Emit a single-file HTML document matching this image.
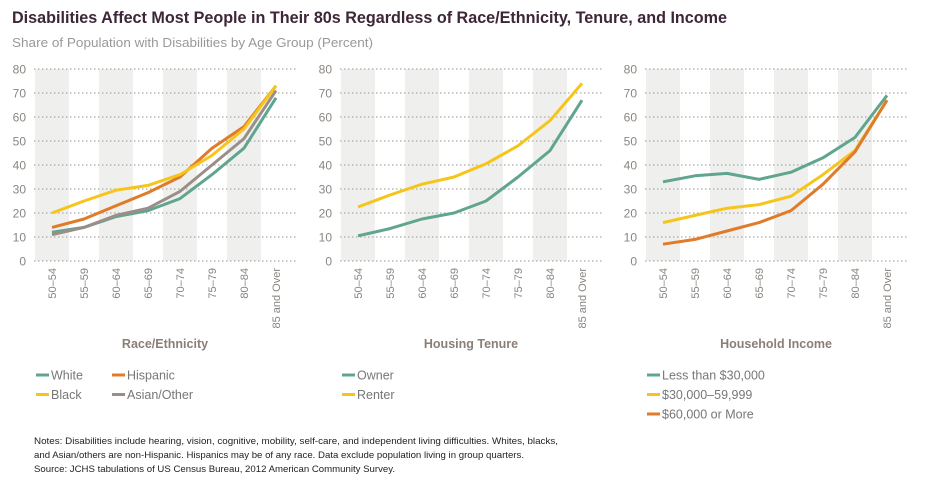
<!DOCTYPE html>
<html><head><meta charset="utf-8"><style>
body{margin:0;background:#fff;width:940px;height:488px;overflow:hidden;font-family:"Liberation Sans",sans-serif}
svg{display:block}
</style></head><body>
<svg id="c" width="940" height="488" xmlns="http://www.w3.org/2000/svg">
<text x="12" y="23" font-size="17" font-weight="bold" fill="#3d2638" textLength="715" lengthAdjust="spacingAndGlyphs">Disabilities Affect Most People in Their 80s Regardless of Race/Ethnicity, Tenure, and Income</text>
<text x="12" y="47" font-size="12.5" fill="#999" textLength="361" lengthAdjust="spacingAndGlyphs">Share of Population with Disabilities by Age Group (Percent)</text>
<g font-size="9.5" fill="#222">
<text x="34" y="444" textLength="524" lengthAdjust="spacingAndGlyphs">Notes: Disabilities include hearing, vision, cognitive, mobility, self-care, and independent living difficulties. Whites, blacks,</text>
<text x="34" y="458" textLength="490" lengthAdjust="spacingAndGlyphs">and Asian/others are non-Hispanic. Hispanics may be of any race. Data exclude population living in group quarters.</text>
<text x="34" y="472" textLength="361" lengthAdjust="spacingAndGlyphs">Source: JCHS tabulations of US Census Bureau, 2012 American Community Survey.</text>
</g>
</svg>
<script>
const categories=["50–54","55–59","60–64","65–69","70–74","75–79","80–84","85 and Over"];
const yTicks=[0,10,20,30,40,50,60,70,80];
const white=[12,14,18.5,21,26,36,47,68];
const hispanic=[14,17.5,23,28.5,35,47,56,73];
const black=[20,25,29.5,31.5,36,44,55,73];
const asian=[11,14,19,22,29,40,51,71];
const owner=[10.5,13.5,17.5,20,25,35,46,67];
const renter=[22.5,27.5,32,35,40.5,48,58.5,74];
const inc1=[33,35.5,36.5,34,37,43,51.5,69];
const inc2=[16,19,22,23.5,27,36,46,67];
const inc3=[7,9,12.5,16,21,32,45.5,67];
const G="#5fa58f",O="#e07b2a",Y="#f6c51b",A="#9a8f88";
const panels=[
 {ox:0,title:"Race/Ethnicity",series:[["White",white,G],["Asian/Other",asian,A],["Hispanic",hispanic,O],["Black",black,Y]],
  legend:[["White",G,0,0],["Hispanic",O,76,0],["Black",Y,0,1],["Asian/Other",A,76,1]]},
 {ox:306,title:"Housing Tenure",series:[["Owner",owner,G],["Renter",renter,Y]],legend:[["Owner",G,0,0],["Renter",Y,0,1]]},
 {ox:611,title:"Household Income",series:[["Less than $30,000",inc1,G],["$30,000–59,999",inc2,Y],["$60,000 or More",inc3,O]],
  legend:[["Less than $30,000",G,0,0],["$30,000–59,999",Y,0,1],["$60,000 or More",O,0,2]]}
];
const svg=document.getElementById('c');const NS="http://www.w3.org/2000/svg";
function el(t,a,p){const e=document.createElementNS(NS,t);for(const k in a)e.setAttribute(k,a[k]);(p||svg).appendChild(e);return e;}
const y=v=>261-v*2.4;
panels.forEach((p,pi)=>{
 const x=i=>52+p.ox+i*32;
 const g=el('g',{});
 
 
 for(let i=0;i<categories.length;i+=2){const r=el('rect',{x:x(i)-17,y:69,width:34,height:192,fill:'#efefed'},g);
  }
 yTicks.forEach(t=>{const l=el('line',{x1:34+p.ox,x2:296+p.ox,y1:y(t),y2:y(t),stroke:'#aaa','stroke-width':1.2,'stroke-dasharray':'1.5,2.5'},g);
  
  const tx=el('text',{x:26+p.ox,y:y(t)+4.5,'text-anchor':'end','font-size':12,fill:'#8a8580'},g);tx.textContent=t;
  });
 categories.forEach((c,i)=>{const tx=el('text',{transform:`translate(${x(i)+4},${268}) rotate(-90)`,'text-anchor':'end','font-size':11,fill:'#8a8580'},g);tx.textContent=c;
  });
 p.series.forEach(s=>{const pl=el('polyline',{points:s[1].map((v,i)=>x(i)+','+y(v)).join(' '),fill:'none',stroke:s[2],'stroke-width':3,'stroke-linejoin':'round'},g);
  });
 const tt=el('text',{x:165+p.ox,y:348,'text-anchor':'middle','font-size':12.5,'font-weight':'bold',fill:'#8a7f78'},g);tt.textContent=p.title;
 
 p.legend.forEach(L=>{const lx=36+p.ox+L[2],ly=375+L[3]*19.5;
  const le=el('g',{},g);
  el('line',{x1:lx,x2:lx+13,y1:ly,y2:ly,stroke:L[1],'stroke-width':3},le);
  const t=el('text',{x:lx+15,y:ly+4.5,'font-size':12.5,fill:'#777'},le);t.textContent=L[0];});
});
</script>
</body></html>
